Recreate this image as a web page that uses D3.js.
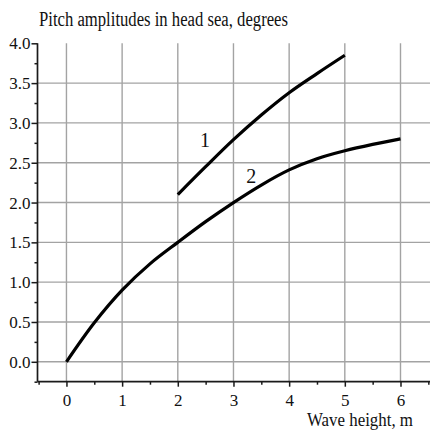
<!DOCTYPE html>
<html><head><meta charset="utf-8">
<script src="https://cdn.jsdelivr.net/npm/d3@7"></script>
<style>body{margin:0;background:#fff;} svg{display:block;}</style>
</head><body>
<svg id="c" width="430" height="431"></svg>
<script>
const waveHeight1 = [2, 2.5, 3, 3.5, 4, 4.5, 5];
const pitch1 = [2.1, 2.45, 2.79, 3.1, 3.38, 3.62, 3.85];
const waveHeight2 = [0, 0.5, 1, 1.5, 2, 2.5, 3, 3.5, 4, 4.5, 5, 5.5, 6];
const pitch2 = [0, 0.49, 0.90, 1.23, 1.5, 1.76, 2.0, 2.22, 2.41, 2.55, 2.65, 2.73, 2.80];
const xTicks = [0, 1, 2, 3, 4, 5, 6];
const xMinor = [-0.5, 0.5, 1.5, 2.5, 3.5, 4.5, 5.5, 6.5];
const yTicks = [0, 0.5, 1, 1.5, 2, 2.5, 3, 3.5, 4];
const yGrid = [0, 0.5, 1, 1.5, 2, 2.5, 3, 3.5];
const yMinor = [-0.25, 0.25, 0.75, 1.25, 1.75, 2.25, 2.75, 3.25, 3.75];
const curveLabels = [{t: "1", x: 2.49, y: 2.7}, {t: "2", x: 3.32, y: 2.25}];
const titleText = "Pitch amplitudes in head sea, degrees";
const xTitle = "Wave height, m";

const svg = d3.select("#c");
const font = "'Liberation Serif', 'Times New Roman', serif";
const x = d3.scaleLinear().domain([-0.52, 6.53]).range([37.5, 430]);
const y = d3.scaleLinear().domain([-0.25, 4.0]).range([381.7, 43.3]);

const grid = svg.append("g").attr("stroke", "#a3a3a3").attr("stroke-width", 1.4);
grid.selectAll("line.v").data(xTicks).join("line")
  .attr("x1", d => x(d)).attr("x2", d => x(d))
  .attr("y1", y(4)).attr("y2", y(-0.25));
grid.selectAll("line.h").data(yGrid).join("line")
  .attr("x1", x(-0.52)).attr("x2", 430)
  .attr("y1", d => y(d)).attr("y2", d => y(d));

// axes
const xAxis = svg.append("g").attr("transform", `translate(0,${y(-0.25)})`)
  .call(d3.axisBottom(x).tickValues(xTicks).tickSize(5).tickPadding(7).tickFormat(d3.format("d")));
const xAxisMinor = svg.append("g").attr("transform", `translate(0,${y(-0.25)})`)
  .call(d3.axisBottom(x).tickValues(xMinor).tickSize(3).tickFormat(""));
const yAxis = svg.append("g").attr("transform", `translate(${x(-0.52)},0)`)
  .call(d3.axisLeft(y).tickValues(yTicks).tickSize(6).tickPadding(1).tickFormat(d3.format(".1f")));
const yAxisMinor = svg.append("g").attr("transform", `translate(${x(-0.52)},0)`)
  .call(d3.axisLeft(y).tickValues(yMinor).tickSize(3).tickFormat(""));
[xAxis, xAxisMinor, yAxis, yAxisMinor].forEach(g => {
  g.select(".domain").attr("stroke", "#1a1a1a").attr("stroke-width", 1.7);
  g.selectAll(".tick line").attr("stroke", "#1a1a1a").attr("stroke-width", 1.5);
  g.selectAll("text").attr("font-family", font).attr("font-size", 17).attr("fill", "#111");
});
xAxisMinor.select(".domain").remove();
yAxisMinor.select(".domain").remove();
xAxis.select(".domain").attr("d", `M${x(-0.52)},0H430`);
yAxis.select(".domain").attr("d", `M0,${y(4)}V${y(-0.25)}`);

// curves
const line = d3.line().x(d => x(d[0])).y(d => y(d[1])).curve(d3.curveCatmullRom.alpha(0.5));
svg.append("path").datum(waveHeight1.map((v, i) => [v, pitch1[i]]))
  .attr("d", line).attr("fill", "none").attr("stroke", "#000").attr("stroke-width", 3.2);
svg.append("path").datum(waveHeight2.map((v, i) => [v, pitch2[i]]))
  .attr("d", line).attr("fill", "none").attr("stroke", "#000").attr("stroke-width", 3.2);

svg.selectAll("text.cl").data(curveLabels).join("text")
  .attr("x", d => x(d.x)).attr("y", d => y(d.y))
  .attr("text-anchor", "middle").attr("font-family", font).attr("font-size", 20).attr("fill", "#111")
  .text(d => d.t);

svg.append("text").attr("x", 39).attr("y", 25.7)
  .attr("font-family", font).attr("font-size", 20).attr("fill", "#111")
  .attr("textLength", 249).attr("lengthAdjust", "spacingAndGlyphs").text(titleText);
svg.append("text").attr("x", 307).attr("y", 425.5)
  .attr("font-family", font).attr("font-size", 19).attr("fill", "#111")
  .attr("textLength", 106).attr("lengthAdjust", "spacingAndGlyphs").text(xTitle);
</script>
</body></html>
